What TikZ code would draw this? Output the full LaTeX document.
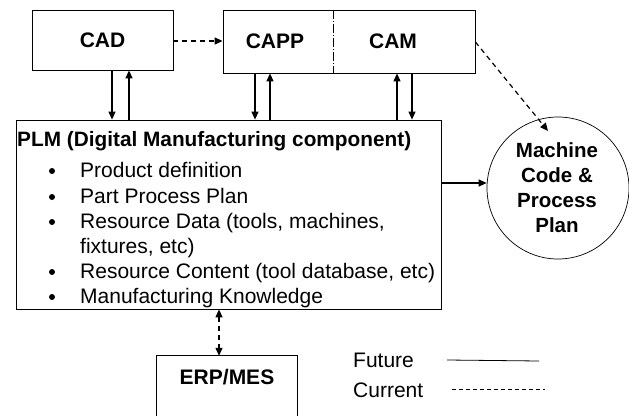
\documentclass[tikz,border=0pt]{standalone}
\usepackage{fontspec}
\setmainfont{Liberation Sans}
\usetikzlibrary{arrows.meta}
\begin{document}
\begin{tikzpicture}[x=1pt,y=-1pt,
  box/.style={draw,line width=0.8pt,inner sep=0pt},
  lbl/.style={font=\fontsize{21}{24}\selectfont\bfseries},
  txt/.style={font=\fontsize{21}{24}\selectfont,anchor=base west,inner sep=0pt},
  arr/.style={-{Triangle[length=8pt,width=7pt]},line width=1.2pt},
  darr/.style={arr,dash pattern=on 5pt off 4pt},
  bul/.style={circle,fill,inner sep=0pt,minimum size=6pt}]
\useasboundingbox (0,0) rectangle (629,415);
% boxes
\node[box,minimum width=141pt,minimum height=60pt] (cad) at (102.5,40) {};
\node[lbl] (cadl) at (cad.center) {CAD};
\node[box,minimum width=252pt,minimum height=63pt] (cc) at (349,41.5) {};
\draw[line width=0.6pt,dash pattern=on 9pt off 2pt on 1pt off 2pt] (cc.north -| 333,0) coordinate (dt) -- (cc.south -| 333,0) coordinate (db);
\node[lbl] (capp) at (275,41) {CAPP};
\node[lbl] (cam) at (393,41) {CAM};
\node[box,minimum width=425pt,minimum height=189pt] (plm) at (228.5,214.5) {};
\node[draw,line width=0.7pt,circle,minimum size=142pt,inner sep=0pt] (mc) at (558,188) {};
\node[lbl,align=center,font=\fontsize{20.5}{25}\selectfont\bfseries] (mcl) at (557,188) {Machine\\Code \&\\Process\\Plan};
\node[minimum width=140pt,minimum height=62pt,inner sep=0pt] (erp) at (227,387) {};
\draw[line width=0.8pt] (erp.south west) -- (erp.north west) -- (erp.north east) -- (erp.south east);
\node[lbl] (erpl) at (227,377) {ERP/MES};
% PLM text
\node[txt,font=\fontsize{20.8}{24}\selectfont\bfseries] (t0) at (17,146) {PLM (Digital Manufacturing component)};
\node[txt] (t1) at (80,177) {Product definition};
\node[txt] (t2) at (80,203) {Part Process Plan};
\node[txt] (t3) at (80,228) {Resource Data (tools, machines,};
\node[txt] (t3b) at (80,253) {fixtures, etc)};
\node[txt] (t4) at (80,278) {Resource Content (tool database, etc)};
\node[txt] (t5) at (80,303) {Manufacturing Knowledge};
\foreach \y/\n in {171/b1,197/b2,222/b3,272/b4,297/b5}
  \node[bul] (\n) at (52,\y) {};
% connectors
\draw[darr] (cad.east |- 0,41) -- (cc.west |- 0,41);
\draw[arr] (cad.south -| 112,0) -- (plm.north -| 112,0);
\draw[arr] (plm.north -| 129,0) -- (cad.south -| 129,0);
\draw[arr] (cc.south -| 255,0) -- (plm.north -| 255,0);
\draw[arr] (plm.north -| 270,0) -- (cc.south -| 270,0);
\draw[arr] (plm.north -| 397,0) -- (cc.south -| 397,0);
\draw[arr] (cc.south -| 412,0) -- (plm.north -| 412,0);
\draw[arr] (plm.east |- 0,183) -- (mc.west |- 0,183);
\coordinate (tip) at (548,131);
\draw[darr] (cc.east |- 0,42) -- (tip);
\draw[darr,{Triangle[length=8pt,width=7pt]}-{Triangle[length=8pt,width=7pt]}] (plm.south -| 219,0) -- (erp.north -| 219,0);
% legend
\node[txt] (fut) at (353,367) {Future};
\node[txt] (cur) at (353,397) {Current};
\coordinate (f1) at (447,360);
\coordinate (f2) at (539,361);
\draw[line width=0.8pt] (f1) -- (f2);
\coordinate (c1) at (452,389);
\coordinate (c2) at (545,389);
\draw[line width=0.8pt,dash pattern=on 4pt off 3pt] (c1) -- (c2);
\end{tikzpicture}
\end{document}
